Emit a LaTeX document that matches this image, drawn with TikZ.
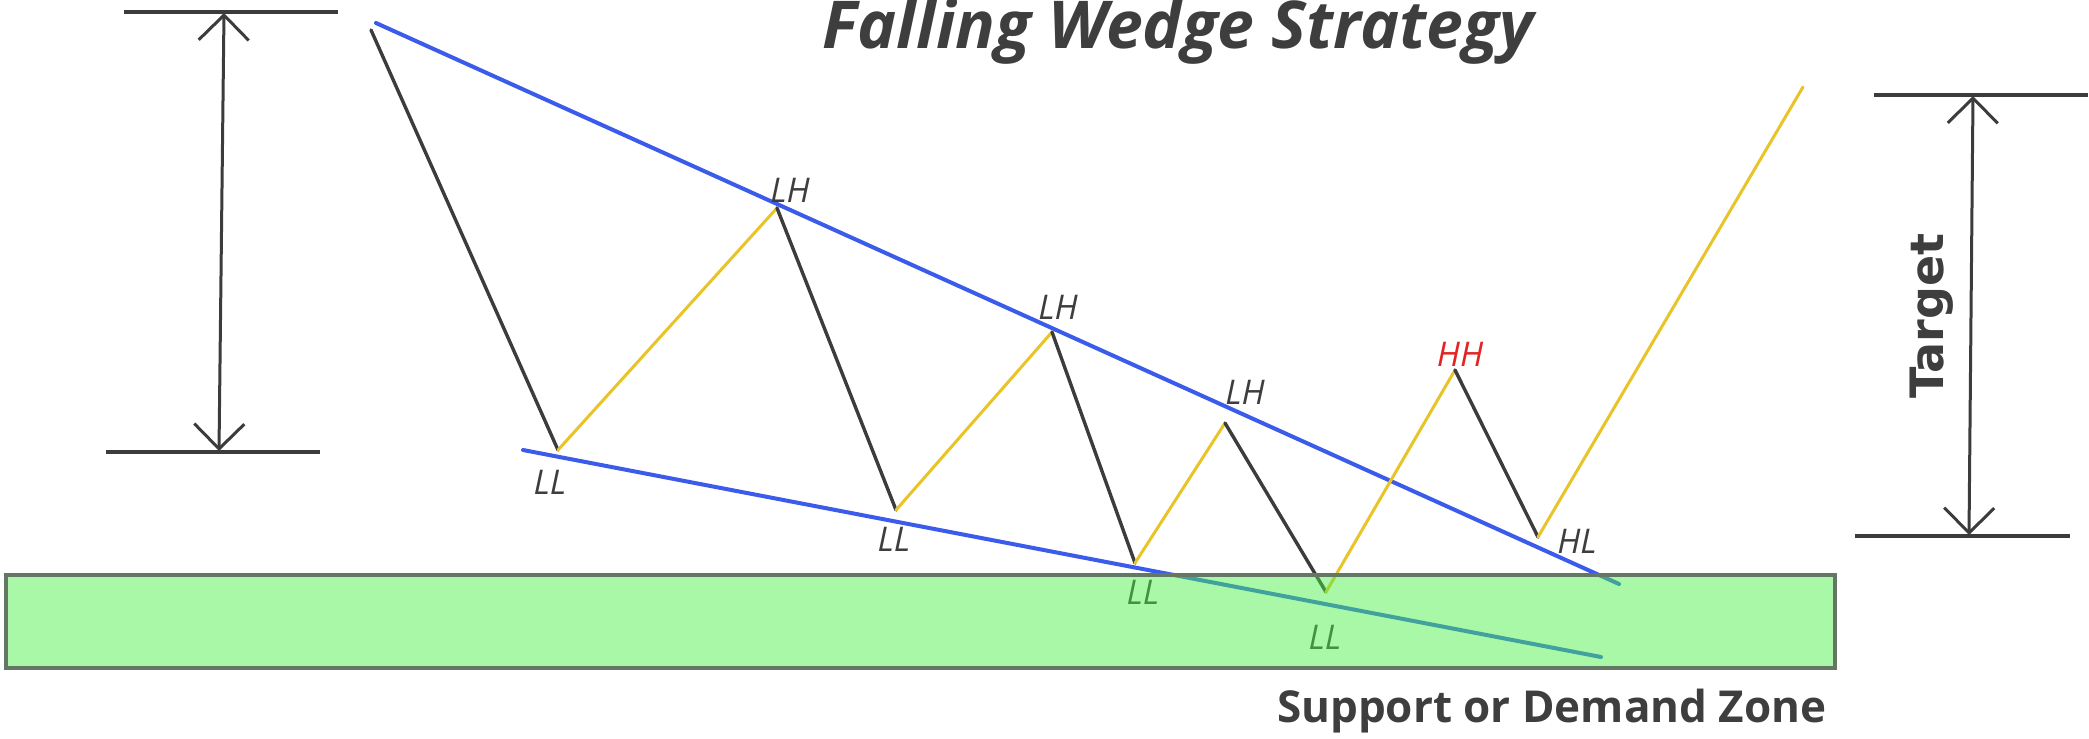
\documentclass[tikz,border=0pt]{standalone}
\usepackage{fontspec}
\setmainfont{Open Sans}
\newfontfamily\targetfont{DejaVu Sans}
\usetikzlibrary{arrows.meta}
\definecolor{wedgeblue}{RGB}{59,91,235}
\definecolor{riseyellow}{RGB}{232,196,40}
\definecolor{dropgray}{RGB}{60,60,60}
\definecolor{textgray}{RGB}{62,62,62}
\definecolor{hhred}{RGB}{226,36,36}
\definecolor{zonegreen}{RGB}{70,240,70}
\definecolor{zoneedge}{RGB}{100,118,100}
\tikzset{
  trend/.style={line width=4pt, color=wedgeblue, line cap=round},
  upleg/.style={line width=3pt, color=riseyellow, line cap=round},
  downleg/.style={line width=3.4pt, color=dropgray, line cap=round},
  level/.style={line width=4pt, color=dropgray},
  span/.style={{Straight Barb[length=25pt,width=50pt]}-{Straight Barb[length=25pt,width=50pt]},
    line width=3pt, color=dropgray},
  swing/.style={font=\fontsize{34}{34}\selectfont\itshape, text=textgray, inner sep=0pt},
  zone/.style={fill=zonegreen, fill opacity=0.47},
}

\begin{document}
\begin{tikzpicture}[x=1pt, y=-1pt]
  \useasboundingbox (0,0) rectangle (2089,739);

  \node[font=\fontsize{66}{66}\selectfont\bfseries\itshape, text=textgray, anchor=base]
    (title) at (1178,48) {Falling Wedge Strategy};

  \coordinate (start) at (371,30);
  \coordinate (ll1) at (558,450);
  \coordinate (lh1) at (777,208);
  \coordinate (ll2) at (896,510);
  \coordinate (lh2) at (1052,332);
  \coordinate (ll3) at (1135,563);
  \coordinate (lh3) at (1225,423);
  \coordinate (ll4) at (1326,592);
  \coordinate (hh) at (1455,370);
  \coordinate (hl) at (1538,537);
  \coordinate (breakout) at (1803,87);

  \coordinate (topA) at (376,23);
  \coordinate (topB) at (1619,584);
  \coordinate (botA) at (523,450);
  \coordinate (botB) at (1601,657);
  \draw[trend] (topA) -- (topB);
  \draw[trend] (botA) -- (botB);

  \draw[downleg] (start) -- (ll1);
  \draw[upleg] (ll1) -- (lh1);
  \draw[downleg] (lh1) -- (ll2);
  \draw[upleg] (ll2) -- (lh2);
  \draw[downleg] (lh2) -- (ll3);
  \draw[upleg] (ll3) -- (lh3);
  \draw[downleg] (lh3) -- (ll4);
  \draw[upleg] (ll4) -- (hh);
  \draw[downleg] (hh) -- (hl);
  \draw[upleg] (hl) -- (breakout);

  \node[swing] (lh1lab) at (790,190) {LH};
  \node[swing] (lh2lab) at (1058,307) {LH};
  \node[swing] (lh3lab) at (1245,392) {LH};
  \node[swing, text=hhred] (hhlab) at (1460,354) {HH};
  \node[swing] (hllab) at (1577,541) {HL};
  \node[swing] (ll1lab) at (550,482) {LL};
  \node[swing] (ll2lab) at (894,539) {LL};
  \node[swing] (ll3lab) at (1143,592) {LL};
  \node[swing] (ll4lab) at (1325,637) {LL};

  \draw[level] (124,12) -- (338,12);
  \draw[level] (106,452) -- (320,452);
  \coordinate (fallhi) at (224,13);
  \coordinate (falllo) at (219,451);
  \draw[span] (fallhi) -- (falllo);

  \draw[level] (1874,95) -- (2088,95);
  \draw[level] (1855,536) -- (2070,536);
  \coordinate (goalhi) at (1973,96);
  \coordinate (goallo) at (1969,535);
  \draw[span] (goalhi) -- (goallo);
  \node[rotate=90, font=\targetfont\bfseries\fontsize{46}{46}\selectfont, text=textgray]
    (target) at (1932,316) {Target};

  \fill[zone] (6,575) rectangle (1835,668);
  \draw[zoneedge, line width=4pt] (6,575) rectangle (1835,668);
  \node[font=\fontsize{44}{44}\selectfont\bfseries, text=textgray, anchor=base east]
    (zonelab) at (1830,722) {Support or Demand Zone};
\end{tikzpicture}
\end{document}
